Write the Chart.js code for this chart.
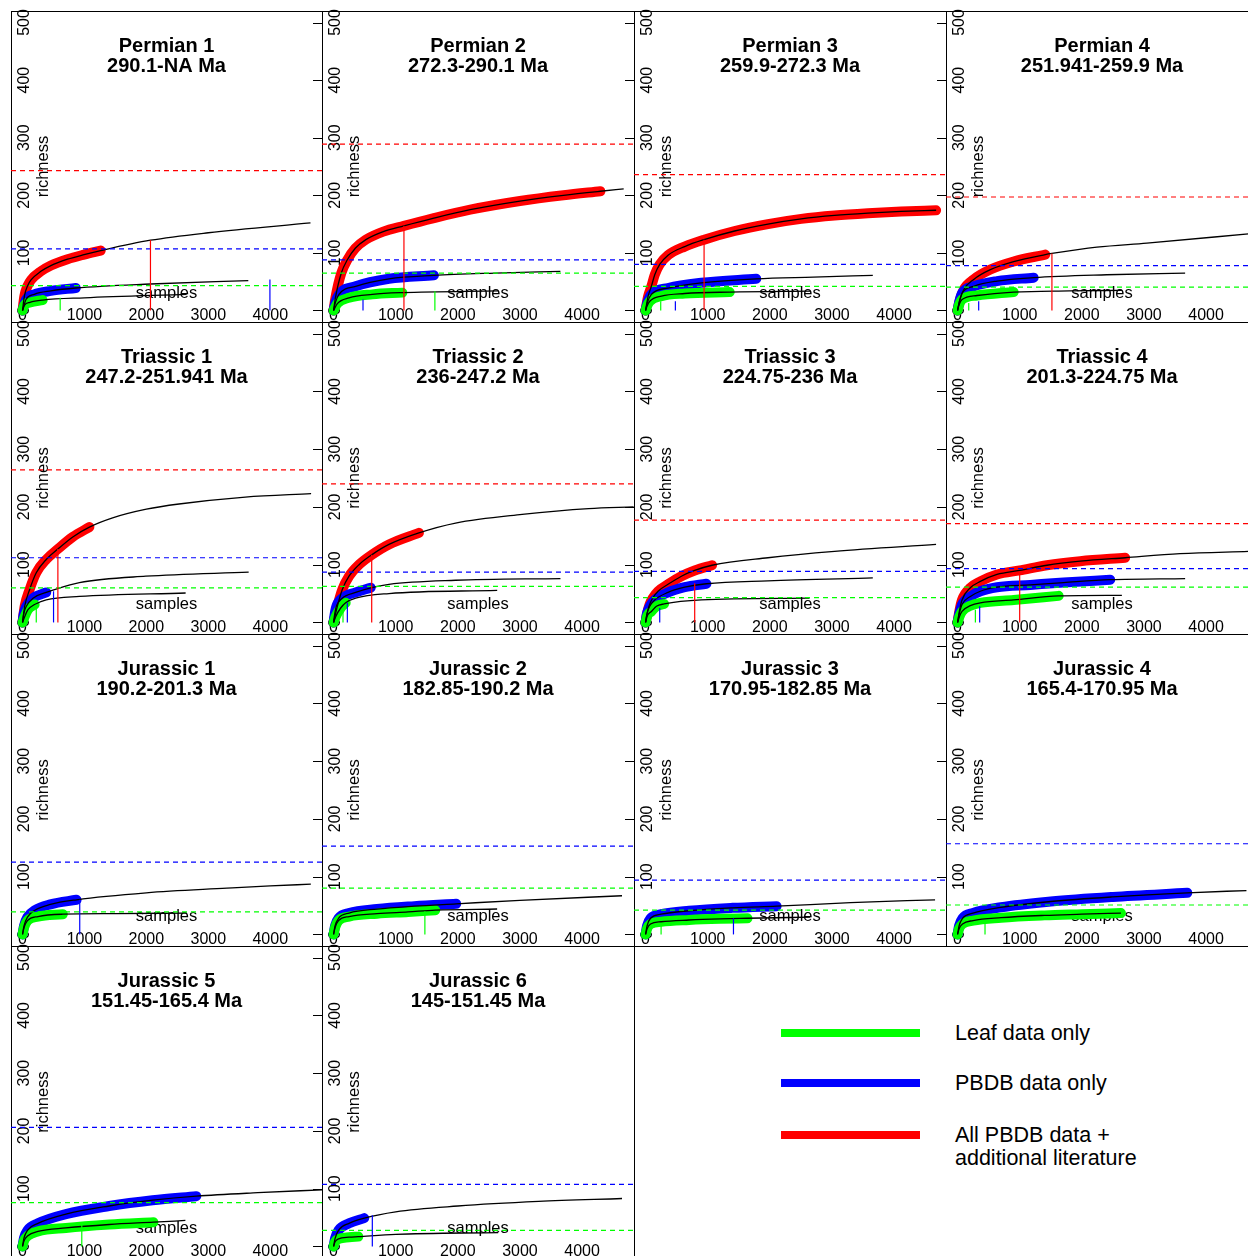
<!DOCTYPE html>
<html>
<head>
<meta charset="utf-8">
<title>Rarefaction curves by interval</title>
<script src="https://cdn.jsdelivr.net/npm/chart.js@4.4.1/dist/chart.umd.min.js"></script>
<style>
  html, body { margin: 0; padding: 0; background: #fff; overflow: hidden; }
  #sheet { position: relative; width: 1248px; height: 1256px; overflow: hidden; background: #fff; }
  #sheet canvas { position: absolute; }
  .key-line { position: absolute; height: 8px; }
  .key-text { position: absolute; font-family: "Liberation Sans", Arial, sans-serif; font-size: 21.5px; line-height: 22.5px; color: #000; white-space: nowrap; }
</style>
</head>
<body>
<div id="sheet"></div>
<script>
// ---- interval names ----
const periodNames = ['Permian 1', 'Permian 2', 'Permian 3', 'Permian 4',
  'Triassic 1', 'Triassic 2', 'Triassic 3', 'Triassic 4',
  'Jurassic 1', 'Jurassic 2', 'Jurassic 3', 'Jurassic 4',
  'Jurassic 5', 'Jurassic 6'];
const ageRanges = ['290.1-NA Ma', '272.3-290.1 Ma', '259.9-272.3 Ma', '251.941-259.9 Ma',
  '247.2-251.941 Ma', '236-247.2 Ma', '224.75-236 Ma', '201.3-224.75 Ma',
  '190.2-201.3 Ma', '182.85-190.2 Ma', '170.95-182.85 Ma', '165.4-170.95 Ma',
  '151.45-165.4 Ma', '145-151.45 Ma'];

// ---- axes ----
const xTicks = [0, 1000, 2000, 3000, 4000];
const yTicks = [0, 100, 200, 300, 400, 500];
const sampleRange = [-186, 4836];
const richnessRange = [-20, 520];

// ---- rarefaction + extrapolation curves: [samples, richness] ----
// All PBDB data + additional literature
const redCurves = [
  [[0,0],[30,25],[83,43],[137,53],[297,68],[458,78],[727,89],[994,97],[1262,104],[2066,122],[3000,135],[4650,152]],
  [[0,0],[30,22],[125,65],[222,88],[350,108],[520,123],[800,137],[1133,147],[1600,160],[2200,175],[3000,190],[3700,200],[4295,207],[4670,211]],
  [[0,0],[40,24],[94,42],[148,62],[228,80],[362,96],[630,111],[942,123],[1434,138],[1970,150],[2506,159],[3042,165],[3578,169],[4114,172],[4677,174]],
  [[0,0],[30,15],[99,36],[260,54],[528,71],[903,85],[1412,97],[1519,99],[2243,110],[3047,117],[4681,133]],
  [[0,0],[35,28],[115,57],[222,86],[383,109],[571,127],[812,148],[1080,165],[1455,181],[2000,196],[2527,205],[3598,217],[4660,223]],
  [[0,0],[30,14],[61,28],[141,57],[249,80],[410,100],[614,117],[892,135],[1374,155],[1964,172],[3036,187],[4107,197],[4830,200]],
  [[0,0],[30,18],[68,32],[121,43],[201,54],[362,66],[577,80],[791,90],[1071,99],[1970,112],[3042,123],[4676,135]],
  [[0,0],[30,20],[72,39],[206,60],[367,71],[635,83],[1000,90],[1439,99],[1975,106],[2698,112],[3582,119],[4681,123]],
  null, null, null, null, null, null
];
const redObserved = [1262, 4295, 4677, 1412, 1080, 1374, 1071, 2698, null, null, null, null, null, null];

// PBDB data only
const blueCurves = [
  [[0,0],[56,19],[190,28],[458,34],[860,39],[2066,46],[3646,52]],
  [[0,0],[30,14],[88,28],[356,42],[892,55],[1615,61],[2600,65],[3651,68]],
  [[0,0],[30,14],[94,28],[362,39],[898,48],[1782,55],[2700,58],[3658,61]],
  [[0,0],[25,14],[72,30],[260,42],[635,51],[1225,57],[2400,62],[3663,65]],
  [[0,0],[20,15],[62,28],[169,42],[383,52],[490,56],[919,69],[1990,80],[3652,87]],
  [[0,0],[15,12],[40,26],[141,42],[356,52],[598,60],[892,66],[1964,73],[3652,76]],
  [[0,0],[20,14],[68,28],[148,39],[362,52],[630,61],[979,67],[1970,72],[3658,77]],
  [[0,0],[30,16],[72,31],[206,45],[367,54],[635,61],[1171,65],[1707,69],[2457,74],[3663,76]],
  [[0,0],[25,15],[80,30],[200,42],[450,52],[873,60],[2000,72],[3300,80],[4000,84],[4656,87]],
  [[0,0],[25,15],[80,28],[250,37],[700,44],[1300,49],[1974,53],[3000,59],[4643,67]],
  [[0,0],[25,15],[80,28],[250,35],[700,41],[1400,46],[2109,49],[3300,55],[4660,60]],
  [[0,0],[25,15],[80,28],[250,37],[700,47],[1500,57],[2500,65],[3698,72],[4650,76]],
  [[0,0],[25,15],[80,28],[250,40],[700,56],[1400,70],[2100,80],[2806,87],[3800,93],[4836,98]],
  [[0,0],[25,14],[80,28],[250,40],[494,49],[1000,60],[2000,70],[3300,78],[4643,83]]
];
const blueObserved = [860, 1615, 1782, 1225, 383, 598, 979, 2457, 873, 1974, 2109, 3698, 2806, 494];

// Leaf data only
const greenCurves = [
  [[0,0],[30,9],[120,14],[325,18],[1000,22],[2650,28]],
  [[0,0],[61,12],[249,22],[624,28],[1107,31],[2650,34]],
  [[0,0],[25,8],[68,16],[255,25],[630,29.5],[1354,32],[2650,33.5]],
  [[0,0],[25,10],[72,19],[314,26],[903,32],[1800,34],[2650,35]],
  [[0,0],[35,10],[88,22],[196,31],[383,39],[919,45],[2634,51]],
  [[0,0],[34,10],[115,25],[195,34],[356,42],[892,50],[2634,55.5]],
  [[0,0],[30,12],[94,19],[175,28],[298,32],[898,39],[2640,42]],
  [[0,0],[30,10],[72,19],[206,29],[367,34],[903,39],[1627,46],[2645,47]],
  [[0,0],[25,12],[80,24],[250,31],[650,35],[1500,36],[2650,37]],
  [[0,0],[25,12],[80,24],[250,31],[700,36],[1200,39],[1637,42],[2633,44]],
  [[0,0],[25,10],[80,18],[250,22],[700,25],[1200,27],[1640,28],[2650,30]],
  [[0,0],[25,10],[80,18],[250,24],[700,29],[1400,33],[2000,35],[2630,37]],
  [[0,0],[25,10],[80,18],[250,26],[700,32],[1400,38],[2114,42],[2630,45]],
  [[0,0],[25,8],[80,13],[250,16],[398,17],[1000,21],[2650,24]]
];
const greenObserved = [325, 1107, 1354, 903, 196, 195, 298, 1627, 650, 1637, 1640, 2630, 2114, 398];

// ---- estimated total richness (dashed lines) ----
const redEstimate = [243, 289, 236, 197, 264, 240, 177, 171, null, null, null, null, null, null];
const blueEstimate = [107, 88, 80, 78, 112, 87, 88.5, 93, 125, 153, 94, 157, 206, 107.5];
const greenEstimate = [43, 65, 42, 40.5, 60, 62.5, 43, 61, 39, 80, 42, 51, 76, 27.7];

// ---- vertical markers: [samples, richness] ----
const redMarker = [[2066,122],[1133,147],[942,123],[1519,99],[571,127],[614,117],[791,68],[1000,83], null, null, null, null, null, null];
const blueMarker = [[3995,54],[474,19],[480,16],[340,16],[501,54],[222,34],[228,25],[356,28],[924,60], null,[1415,28], null, null,[624,54]];
const greenMarker = [[608,22],[1631,33.5],[244,16],[180,13],[222,31],[152,25], null,[287,22], null,[1470,40],[250,20],[442,20],[957,38], null];

// ---- legend ----
const legendLabels = ['Leaf data only', 'PBDB data only', 'All PBDB data +\nadditional literature'];

// ---------------------------------------------------------------
const FONT = '"Liberation Sans", Arial, Helvetica, sans-serif';
const RED = '#FF0000', BLUE = '#0000FF', GREEN = '#00FF00';
const colLeft = [11, 322, 634, 946];
const rowTop = [11, 322, 634, 946];
const boxW = [311, 312, 312, 312];
const boxH = [311, 312, 312, 312];
const PAD = 12;

Chart.defaults.font.family = FONT;
Chart.defaults.animation = false;

// frame, tick marks, tick labels, axis titles and panel heading
const panelFrame = {
  id: 'panelFrame',
  beforeDatasetsDraw(chart, args, opts) {
    const { ctx, chartArea: a, scales } = chart;
    const xs = scales.x, ys = scales.y;
    ctx.save();
    ctx.strokeStyle = '#000';
    ctx.lineWidth = 1;
    ctx.strokeRect(a.left + 0.5, a.top + 0.5, a.right - a.left, a.bottom - a.top);
    if (opts.leftTicks) {
      ctx.beginPath();
      yTicks.forEach(v => {
        const py = Math.round(ys.getPixelForValue(v)) + 0.5;
        ctx.moveTo(a.left - 9, py);
        ctx.lineTo(a.left, py);
      });
      ctx.stroke();
    }
    ctx.fillStyle = '#000';
    ctx.font = '16px ' + FONT;
    ctx.textAlign = 'center';
    ctx.textBaseline = 'alphabetic';
    xTicks.forEach(v => ctx.fillText(String(v), xs.getPixelForValue(v), a.bottom - 2));
    yTicks.forEach(v => {
      ctx.save();
      ctx.translate(a.left + 17.5, ys.getPixelForValue(v));
      ctx.rotate(-Math.PI / 2);
      ctx.fillText(String(v), 0, 0);
      ctx.restore();
    });
    const cx = (a.left + a.right) / 2;
    ctx.font = '16.5px ' + FONT;
    ctx.fillText('samples', cx, a.top + 287);
    ctx.save();
    ctx.translate(a.left + 37, (a.top + a.bottom) / 2);
    ctx.rotate(-Math.PI / 2);
    ctx.fillText('richness', 0, 0);
    ctx.restore();
    ctx.font = 'bold 20px ' + FONT;
    ctx.fillText(opts.title, cx, a.top + 41);
    ctx.fillText(opts.age, cx, a.top + 61);
    ctx.restore();
  }
};

const toXY = pts => pts.map(([x, y]) => ({ x, y }));

function seriesDatasets(curve, observed, estimate, marker, color, depth) {
  const out = [];
  if (curve) {
    out.push({
      data: toXY(curve.filter(([x]) => x <= observed)),
      borderColor: color, borderWidth: 10,
      borderCapStyle: 'round', borderJoinStyle: 'round',
      cubicInterpolationMode: 'monotone', order: 10 + depth
    });
    out.push({
      data: toXY(curve),
      borderColor: '#000', borderWidth: 1.3,
      cubicInterpolationMode: 'monotone', order: 5
    });
  }
  if (estimate != null) {
    out.push({
      data: toXY([[sampleRange[0], estimate], [sampleRange[1], estimate]]),
      borderColor: color, borderWidth: 1.2, borderDash: [5, 4], order: 3
    });
  }
  if (marker) {
    out.push({
      data: toXY([[marker[0], 0], [marker[0], marker[1]]]),
      borderColor: color, borderWidth: 1.2, order: 1
    });
  }
  return out;
}

const sheet = document.getElementById('sheet');

periodNames.forEach((name, i) => {
  const r = Math.floor(i / 4), c = i % 4;
  const w = boxW[c], h = boxH[r];
  const canvas = document.createElement('canvas');
  canvas.width = w + 2 * PAD;
  canvas.height = h + 2 * PAD;
  canvas.style.left = (colLeft[c] - PAD) + 'px';
  canvas.style.top = (rowTop[r] - PAD) + 'px';
  canvas.style.width = canvas.width + 'px';
  canvas.style.height = canvas.height + 'px';
  sheet.appendChild(canvas);

  const datasets = [
    ...seriesDatasets(redCurves[i], redObserved[i], redEstimate[i], redMarker[i], RED, 3),
    ...seriesDatasets(blueCurves[i], blueObserved[i], blueEstimate[i], blueMarker[i], BLUE, 2),
    ...seriesDatasets(greenCurves[i], greenObserved[i], greenEstimate[i], greenMarker[i], GREEN, 1)
  ].map(d => Object.assign({ showLine: true, pointRadius: 0, pointHoverRadius: 0, fill: false, clip: 0 }, d));

  new Chart(canvas, {
    type: 'scatter',
    data: { datasets },
    options: {
      responsive: false,
      devicePixelRatio: 1,
      animation: false,
      events: [],
      layout: { padding: PAD },
      scales: {
        x: { type: 'linear', min: sampleRange[0], max: sampleRange[1], display: false },
        y: { type: 'linear', min: richnessRange[0], max: richnessRange[1], display: false }
      },
      plugins: {
        legend: { display: false },
        tooltip: { enabled: false },
        panelFrame: { title: name, age: ageRanges[i], leftTicks: c > 0 }
      }
    },
    plugins: [panelFrame]
  });
});

// key in the empty lower-right area
const keyColors = [GREEN, BLUE, RED];
const keyLineTop = [1029, 1079, 1131];
const keyTextTop = [1022, 1072, 1124];
legendLabels.forEach((label, k) => {
  const line = document.createElement('div');
  line.className = 'key-line';
  line.style.left = '781px';
  line.style.width = '139px';
  line.style.top = keyLineTop[k] + 'px';
  line.style.background = keyColors[k];
  sheet.appendChild(line);
  const text = document.createElement('div');
  text.className = 'key-text';
  text.style.left = '955px';
  text.style.top = keyTextTop[k] + 'px';
  label.split('\n').forEach((part, j) => {
    if (j) text.appendChild(document.createElement('br'));
    text.appendChild(document.createTextNode(part));
  });
  sheet.appendChild(text);
});
</script>
</body>
</html>
